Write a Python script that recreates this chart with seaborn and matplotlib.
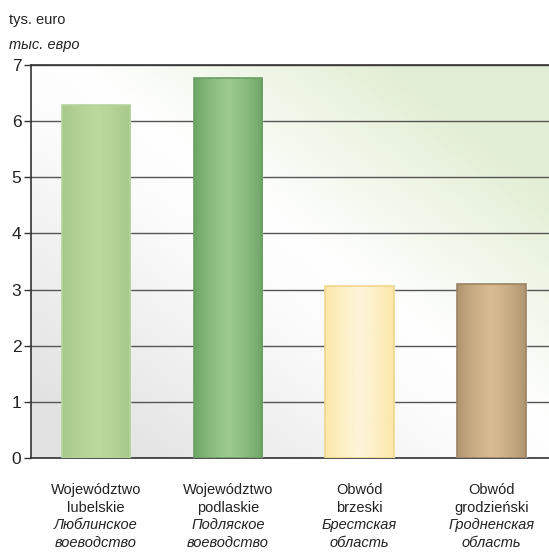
import numpy as np
import pandas as pd
import seaborn as sns
import matplotlib.pyplot as plt
from matplotlib.colors import LinearSegmentedColormap, to_rgb

# data
regions_pl = ["Województwo\nlubelskie", "Województwo\npodlaskie", "Obwód\nbrzeski", "Obwód\ngrodzieński"]
regions_ru = ["Люблинское\nвоеводство", "Подляское\nвоеводство", "Брестская\nобласть", "Гродненская\nобласть"]
values = [6.29, 6.76, 3.07, 3.10]

# bar colours: edge shade, centre shade, outline
bar_edge = ["#a6c98a", "#6ea666", "#fde7a8", "#b0966f"]
bar_mid = ["#bcd99d", "#9cca8e", "#fdf4d8", "#d9bb93"]
bar_line = ["#b4d49c", "#6a9f62", "#f0d68c", "#9a8264"]

df = pd.DataFrame({"region": regions_pl, "value": values})

sns.set_style("white")
plt.rcParams["font.family"] = ["Liberation Sans", "DejaVu Sans"]

fig = plt.figure(figsize=(5.49, 5.60), dpi=100)
ax = fig.add_axes([31 / 549, 102 / 560, 1 - 31 / 549, (458 - 65) / 560])

sns.barplot(data=df, x="region", y="value", hue="region", palette=bar_edge,
            width=0.52, legend=False, ax=ax, zorder=3)

ax.set_xlim(-0.493, 3.436)
ax.set_ylim(0, 7)

# diagonal background: grey bottom-left -> white -> light green top-right
bg_cmap = LinearSegmentedColormap.from_list(
    "bg", [(0, "#e2e2e2"), (0.45, "#fbfbfb"), (0.6, "#ffffff"), (1, "#e2eed3")])
gx, gy = np.meshgrid(np.linspace(0, 1, 200), np.linspace(0, 1, 200))
grad = (gx * 1.0 + gy * 1.0) / 2.0
ax.imshow(grad, extent=[-0.493, 3.436, 0, 7], origin="lower", aspect="auto",
          cmap=bg_cmap, vmin=0.08, vmax=0.85, zorder=0)

# horizontal shading on each bar
for i, p in enumerate(ax.patches):
    c0 = np.array(to_rgb(bar_edge[i]))
    c1 = np.array(to_rgb(bar_mid[i]))
    s = np.linspace(-1, 1, 100)
    w = 1 - np.abs(s) ** 1.3
    row = c0[None, :] * (1 - w[:, None]) + c1[None, :] * w[:, None]
    img = np.tile(row[None, :, :], (2, 1, 1))
    x0, y0 = p.get_x(), p.get_y()
    im = ax.imshow(img, extent=[x0, x0 + p.get_width(), y0, y0 + p.get_height()],
                   aspect="auto", zorder=3.5)
    im.set_clip_path(p)
    outline = plt.Rectangle((x0, y0), p.get_width(), p.get_height(), fill=False,
                            edgecolor=bar_line[i], linewidth=1.2, zorder=4)
    ax.add_patch(outline)

ax.set_xlim(-0.493, 3.436)
ax.set_ylim(0, 7)
ax.set_yticks(range(0, 8))
ax.yaxis.grid(True, color="#555555", linewidth=1.0, zorder=1)
ax.set_axisbelow(True)
ax.tick_params(axis="y", length=5, width=1, color="#333333", labelsize=12.5, pad=2,
               left=True, labelcolor="#222222")
ax.tick_params(axis="x", length=0, labelbottom=False)
for side in ["left", "top", "bottom"]:
    ax.spines[side].set_color("#333333")
    ax.spines[side].set_linewidth(1.2)
ax.spines["right"].set_visible(False)
ax.set_xlabel("")
ax.set_ylabel("")

# two-language category labels
for i in range(len(regions_pl)):
    ax.text(i, -0.45, regions_pl[i], ha="center", va="top", fontsize=10.5,
            color="#222222", linespacing=1.32)
    ax.text(i, -1.07, regions_ru[i], ha="center", va="top", fontsize=10.5,
            style="italic", color="#222222", linespacing=1.32)

fig.text(9 / 549, 1 - 20 / 560, "tys. euro", ha="left", va="center", fontsize=10.5, color="#222222")
fig.text(9 / 549, 1 - 45 / 560, "тыс. евро", ha="left", va="center", fontsize=10.5,
         style="italic", color="#222222")

fig.savefig("out.png", dpi=100)
